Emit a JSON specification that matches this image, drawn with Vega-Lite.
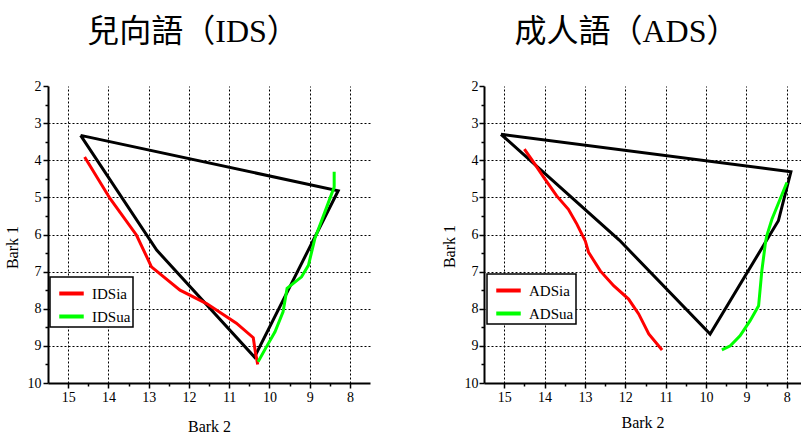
{
  "$schema": "https://vega.github.io/schema/vega-lite/v6.json",
  "padding": {"left": 4, "top": 16, "right": 0, "bottom": 0},
  "background": "white",
  "spacing": 71,
  "config": {
    "view": {"stroke": null},
    "font": "Liberation Serif",
    "axis": {
      "domainColor": "black", "domainWidth": 2,
      "tickColor": "black", "tickWidth": 1.5,
      "gridColor": "black", "gridDash": [2, 2], "gridWidth": 1,
      "labelFont": "Liberation Serif", "labelFontSize": 14, "labelColor": "black",
      "titleFont": "Liberation Serif", "titleFontSize": 16, "titleFontWeight": "normal", "titleColor": "black"
    },
    "legend": {
      "labelFont": "Liberation Serif", "labelFontSize": 15, "labelColor": "black",
      "strokeColor": "black", "strokeWidth": 1.5, "fillColor": "white",
      "symbolType": "stroke", "symbolStrokeWidth": 4, "symbolSize": 600,
      "padding": 2, "rowPadding": 0, "symbolOffset": 5, "labelOffset": 6, "title": null
    },
    "title": {
      "font": "Liberation Serif, Noto Sans CJK TC", "fontSize": 32, "fontWeight": "normal",
      "color": "black", "anchor": "middle", "frame": "group", "offset": 30
    }
  },
  "datasets": {
    "idsBlack": [
      {"i": 1, "bark2": 14.69, "bark1": 3.33},
      {"i": 2, "bark2": 12.80, "bark1": 6.42},
      {"i": 3, "bark2": 10.37, "bark1": 9.30},
      {"i": 4, "bark2": 8.29, "bark1": 4.82},
      {"i": 5, "bark2": 14.69, "bark1": 3.33}
    ],
    "idsColor": [
      {"s": "IDSia", "i": 1, "bark2": 14.59, "bark1": 3.91},
      {"s": "IDSia", "i": 2, "bark2": 13.96, "bark1": 5.03},
      {"s": "IDSia", "i": 3, "bark2": 13.30, "bark1": 6.02},
      {"s": "IDSia", "i": 4, "bark2": 12.93, "bark1": 6.87},
      {"s": "IDSia", "i": 5, "bark2": 12.22, "bark1": 7.50},
      {"s": "IDSia", "i": 6, "bark2": 11.56, "bark1": 7.86},
      {"s": "IDSia", "i": 7, "bark2": 10.82, "bark1": 8.39},
      {"s": "IDSia", "i": 8, "bark2": 10.40, "bark1": 8.78},
      {"s": "IDSia", "i": 9, "bark2": 10.35, "bark1": 9.15},
      {"s": "IDSia", "i": 10, "bark2": 10.29, "bark1": 9.50},
      {"s": "IDSua", "i": 1, "bark2": 8.39, "bark1": 4.31},
      {"s": "IDSua", "i": 2, "bark2": 8.39, "bark1": 4.72},
      {"s": "IDSua", "i": 3, "bark2": 8.62, "bark1": 5.39},
      {"s": "IDSua", "i": 4, "bark2": 8.87, "bark1": 6.11},
      {"s": "IDSua", "i": 5, "bark2": 9.03, "bark1": 6.83},
      {"s": "IDSua", "i": 6, "bark2": 9.20, "bark1": 7.14},
      {"s": "IDSua", "i": 7, "bark2": 9.56, "bark1": 7.45},
      {"s": "IDSua", "i": 8, "bark2": 9.66, "bark1": 8.08},
      {"s": "IDSua", "i": 9, "bark2": 9.86, "bark1": 8.62},
      {"s": "IDSua", "i": 10, "bark2": 10.07, "bark1": 9.02},
      {"s": "IDSua", "i": 11, "bark2": 10.28, "bark1": 9.43}
    ],
    "adsBlack": [
      {"i": 1, "bark2": 15.08, "bark1": 3.30},
      {"i": 2, "bark2": 12.15, "bark1": 6.15},
      {"i": 3, "bark2": 9.90, "bark1": 8.68},
      {"i": 4, "bark2": 8.21, "bark1": 5.63},
      {"i": 5, "bark2": 7.90, "bark1": 4.31},
      {"i": 6, "bark2": 15.08, "bark1": 3.30}
    ],
    "adsColor": [
      {"s": "ADSia", "i": 1, "bark2": 14.50, "bark1": 3.70},
      {"s": "ADSia", "i": 2, "bark2": 14.27, "bark1": 4.06},
      {"s": "ADSia", "i": 3, "bark2": 14.02, "bark1": 4.46},
      {"s": "ADSia", "i": 4, "bark2": 13.70, "bark1": 4.96},
      {"s": "ADSia", "i": 5, "bark2": 13.41, "bark1": 5.32},
      {"s": "ADSia", "i": 6, "bark2": 13.20, "bark1": 5.72},
      {"s": "ADSia", "i": 7, "bark2": 12.99, "bark1": 6.18},
      {"s": "ADSia", "i": 8, "bark2": 12.91, "bark1": 6.48},
      {"s": "ADSia", "i": 9, "bark2": 12.62, "bark1": 6.98},
      {"s": "ADSia", "i": 10, "bark2": 12.29, "bark1": 7.38},
      {"s": "ADSia", "i": 11, "bark2": 11.92, "bark1": 7.74},
      {"s": "ADSia", "i": 12, "bark2": 11.67, "bark1": 8.14},
      {"s": "ADSia", "i": 13, "bark2": 11.42, "bark1": 8.68},
      {"s": "ADSia", "i": 14, "bark2": 11.09, "bark1": 9.11},
      {"s": "ADSua", "i": 1, "bark2": 9.61, "bark1": 9.11},
      {"s": "ADSua", "i": 2, "bark2": 9.40, "bark1": 9.00},
      {"s": "ADSua", "i": 3, "bark2": 9.16, "bark1": 8.73},
      {"s": "ADSua", "i": 4, "bark2": 8.91, "bark1": 8.32},
      {"s": "ADSua", "i": 5, "bark2": 8.70, "bark1": 7.92},
      {"s": "ADSua", "i": 6, "bark2": 8.62, "bark1": 6.98},
      {"s": "ADSua", "i": 7, "bark2": 8.53, "bark1": 6.22},
      {"s": "ADSua", "i": 8, "bark2": 8.50, "bark1": 6.04},
      {"s": "ADSua", "i": 9, "bark2": 8.37, "bark1": 5.59},
      {"s": "ADSua", "i": 10, "bark2": 8.00, "bark1": 4.60}
    ]
  },
  "resolve": {"scale": {"color": "independent", "x": "independent", "y": "independent"}, "legend": {"color": "independent"}},
  "hconcat": [
    {
      "width": 322, "height": 297,
      "title": {"text": "兒向語（IDS）", "dx": -16},
      "resolve": {"axis": {"x": "independent", "y": "independent"}},
      "layer": [
        {
          "data": {"name": "idsBlack"},
          "mark": {"type": "line", "color": "black", "strokeWidth": 3},
          "encoding": {
            "x": {"field": "bark2", "type": "quantitative", "title": "Bark 2",
              "scale": {"domain": [7.5, 15.5], "reverse": true, "nice": false, "zero": false},
              "axis": {"orient": "bottom", "values": [15, 14, 13, 12, 11, 10, 9, 8], "labelOverlap": false,
                "tickSize": 5, "labelPadding": 2, "titlePadding": 14}},
            "y": {"field": "bark1", "type": "quantitative", "title": "Bark 1",
              "scale": {"domain": [2, 10], "reverse": true, "nice": false, "zero": false},
              "axis": {"orient": "left", "values": [2, 3, 4, 5, 6, 7, 8, 9, 10], "labelOverlap": false,
                "tickSize": 5,
                "gridOpacity": {"condition": {"test": "datum.value == 2 || datum.value == 10", "value": 0}, "value": 1},
                "labelPadding": 2, "titlePadding": 7, "titleY": 161}},
            "order": {"field": "i", "type": "quantitative"}
          }
        },
        {
          "data": {"name": "idsColor"},
          "mark": {"type": "line", "strokeWidth": 3},
          "encoding": {
            "x": {"field": "bark2", "type": "quantitative",
              "axis": {"orient": "bottom", "values": [14.5, 13.5, 12.5, 11.5, 10.5, 9.5, 8.5], "labels": false, "domain": false, "grid": false, "tickSize": 3, "title": null}},
            "y": {"field": "bark1", "type": "quantitative",
              "axis": {"orient": "left", "values": [2.5, 3.5, 4.5, 5.5, 6.5, 7.5, 8.5, 9.5], "labels": false, "domain": false, "grid": false, "tickSize": 3, "title": null}},
            "order": {"field": "i", "type": "quantitative"},
            "color": {"field": "s", "type": "nominal",
              "scale": {"domain": ["IDSia", "IDSua"], "range": ["#ff0000", "#00ff00"]},
              "legend": {"orient": "none", "legendX": 2, "legendY": 191}}
          }
        }
      ]
    },
    {
      "width": 317, "height": 297,
      "title": {"text": "成人語（ADS）", "dx": -16},
      "resolve": {"axis": {"x": "independent", "y": "independent"}},
      "layer": [
        {
          "data": {"name": "adsBlack"},
          "mark": {"type": "line", "color": "black", "strokeWidth": 3},
          "encoding": {
            "x": {"field": "bark2", "type": "quantitative", "title": "Bark 2",
              "scale": {"domain": [7.65, 15.5], "reverse": true, "nice": false, "zero": false},
              "axis": {"orient": "bottom", "values": [15, 14, 13, 12, 11, 10, 9, 8], "labelOverlap": false,
                "tickSize": 5, "labelPadding": 2, "titlePadding": 10}},
            "y": {"field": "bark1", "type": "quantitative", "title": "Bark 1",
              "scale": {"domain": [2, 10], "reverse": true, "nice": false, "zero": false},
              "axis": {"orient": "left", "values": [2, 3, 4, 5, 6, 7, 8, 9, 10], "labelOverlap": false,
                "tickSize": 5,
                "gridOpacity": {"condition": {"test": "datum.value == 2 || datum.value == 10", "value": 0}, "value": 1},
                "labelPadding": 1, "titlePadding": 7, "titleY": 160}},
            "order": {"field": "i", "type": "quantitative"}
          }
        },
        {
          "data": {"name": "adsColor"},
          "mark": {"type": "line", "strokeWidth": 3},
          "encoding": {
            "x": {"field": "bark2", "type": "quantitative",
              "axis": {"orient": "bottom", "values": [14.5, 13.5, 12.5, 11.5, 10.5, 9.5, 8.5], "labels": false, "domain": false, "grid": false, "tickSize": 3, "title": null}},
            "y": {"field": "bark1", "type": "quantitative",
              "axis": {"orient": "left", "values": [2.5, 3.5, 4.5, 5.5, 6.5, 7.5, 8.5, 9.5], "labels": false, "domain": false, "grid": false, "tickSize": 3, "title": null}},
            "order": {"field": "i", "type": "quantitative"},
            "color": {"field": "s", "type": "nominal",
              "scale": {"domain": ["ADSia", "ADSua"], "range": ["#ff0000", "#00ff00"]},
              "legend": {"orient": "none", "legendX": 3, "legendY": 188}}
          }
        }
      ]
    }
  ]
}
